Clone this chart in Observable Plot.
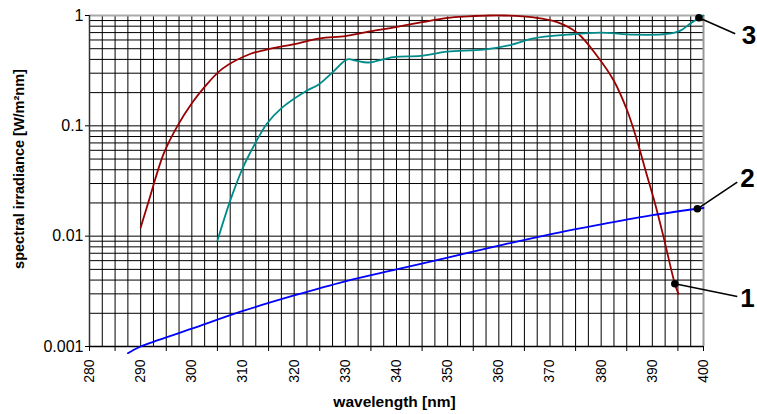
<!DOCTYPE html>
<html>
<head>
<meta charset="utf-8">
<script src="https://cdn.jsdelivr.net/npm/d3@7"></script>
<script src="https://cdn.jsdelivr.net/npm/@observablehq/plot@0.6"></script>
<style>
  html, body { margin: 0; padding: 0; background: #fff; }
  svg { display: block; }
</style>
</head>
<body>
<div id="chart"></div>
<script>
// ---- data ----
const wl1 = [290, 291.6, 294.5, 297.2, 300, 302.3, 306, 311.5, 315.4, 320, 325, 330, 334.3, 338.8, 345, 350, 354, 358, 361, 366.8, 371.4, 375.4, 379.2, 382.4, 385.1, 387, 388.7, 390.5, 392.2, 394.4, 395.1];
const irr1 = [0.012, 0.021, 0.056, 0.10, 0.16, 0.22, 0.33, 0.45, 0.50, 0.55, 0.62, 0.65, 0.71, 0.77, 0.87, 0.95, 0.98, 1.0, 1.0, 0.96, 0.87, 0.69, 0.43, 0.26, 0.137, 0.074, 0.039, 0.02, 0.0098, 0.0037, 0.003];

const wl2 = [287.5, 290, 300, 310, 320, 330, 340, 350, 360, 370, 380, 390, 400];
const irr2 = [0.00087, 0.001, 0.00145, 0.0021, 0.0029, 0.0039, 0.005, 0.0064, 0.0082, 0.0104, 0.0128, 0.0155, 0.018];

const wl3 = [305, 307.5, 309.9, 311.4, 314.7, 317.7, 322.2, 324.8, 327.5, 330.4, 332, 334.5, 339.4, 344.7, 349.9, 357, 362.3, 366.8, 373.4, 379.8, 386.3, 392.9, 395.5, 397.5, 400];
const irr3 = [0.0091, 0.021, 0.041, 0.057, 0.105, 0.147, 0.205, 0.237, 0.305, 0.40, 0.39, 0.375, 0.42, 0.43, 0.47, 0.49, 0.54, 0.62, 0.67, 0.70, 0.67, 0.68, 0.73, 0.85, 1.0];

const seriesNames = ["1", "2", "3"];
const seriesColors = ["#990000", "#0000ff", "#008b8b"];

// annotation markers (data coordinates)
const markerX = [394.4, 398.8, 399.1];
const markerY = [0.00371, 0.0177, 0.953];
const leaderEndX = [406.6, 406.6, 406.2];
const leaderEndY = [0.00284, 0.0309, 0.683];
const labelX = [408.6, 408.6, 408.9];
const labelY = [0.00273, 0.0333, 0.659];

const xTickValues = [280, 290, 300, 310, 320, 330, 340, 350, 360, 370, 380, 390, 400];
const xMinorTickValues = [280, 285, 295, 305, 315, 325, 335, 345, 355, 365, 375, 385, 395, 400];
const yTickValues = [1, 0.1, 0.01, 0.001];
const yTickLabels = ["1", "0.1", "0.01", "0.001"];

const xTitle = "wavelength [nm]";
const yTitle = "spectral irradiance [W/m\u00b2nm]";

// ---- build ----
const toRows = (xs, ys, name) => xs.map((x, i) => ({x, y: ys[i], s: name}));
const lines = [
  toRows(wl1, irr1, seriesNames[0]),
  toRows(wl2, irr2, seriesNames[1]),
  toRows(wl3, irr3, seriesNames[2])
];
const ann = seriesNames.map((n, i) => ({
  n, mx: markerX[i], my: markerY[i], ex: leaderEndX[i], ey: leaderEndY[i], lx: labelX[i], ly: labelY[i]
}));

const gridX = d3.range(280, 400.01, 2.5);
const gridY = [];
for (const e of [0.001, 0.01, 0.1]) for (let k = 1; k <= 9; k++) gridY.push(+(k * e).toPrecision(3));
gridY.push(1);

const yLabelMap = new Map(yTickValues.map((v, i) => [v, yTickLabels[i]]));
const font = "Liberation Sans, Arial, Helvetica, sans-serif";

const chart = Plot.plot({
  width: 757,
  height: 414,
  marginLeft: 89,
  marginRight: 54,
  marginTop: 15,
  marginBottom: 68,
  style: {fontFamily: font, background: "#fff", color: "#000", overflow: "visible"},
  x: {domain: [280, 400]},
  y: {type: "log", domain: [0.001, 1]},
  marks: [
    Plot.ruleX(gridX, {stroke: "#000", strokeWidth: 1}),
    Plot.ruleY(gridY, {stroke: "#000", strokeWidth: 1}),
    Plot.ruleX([400], {stroke: "#999", strokeWidth: 2}),
    Plot.ruleY([1], {stroke: "#aaa", strokeWidth: 2}),
    Plot.ruleX([280], {stroke: "#333", strokeWidth: 1.5}),
    Plot.ruleY([0.001], {stroke: "#000", strokeWidth: 1.5}),
    Plot.axisX(xMinorTickValues, {tickSize: 5, tickFormat: () => "", label: null, stroke: "#000"}),
    Plot.axisX(xTickValues, {tickSize: 0, tickRotate: -90, tickPadding: 13, fontSize: 14, label: null, fill: "#000"}),
    Plot.axisY(yTickValues, {tickSize: 4, tickPadding: 2, fontSize: 16, label: null, tickFormat: d => yLabelMap.get(d), fill: "#000", stroke: "#000"}),
    ...lines.map((rows, i) => Plot.line(rows, {x: "x", y: "y", stroke: seriesColors[i], strokeWidth: 1.8, curve: "catmull-rom"})),
    Plot.link(ann, {x1: "mx", y1: "my", x2: "ex", y2: "ey", stroke: "#000", strokeWidth: 1.6}),
    Plot.dot(ann, {x: "mx", y: "my", r: 3.8, fill: "#000", stroke: null}),
    Plot.text(ann, {x: "lx", y: "ly", text: "n", fontSize: 26, fontWeight: "bold", fill: "#000", textAnchor: "middle", lineAnchor: "middle"}),
    Plot.text([yTitle], {frameAnchor: "left", dx: -70, dy: -12, rotate: -90, fontSize: 14.5, fontWeight: "bold", fill: "#000", textAnchor: "middle", lineAnchor: "middle"}),
    Plot.text([xTitle], {frameAnchor: "bottom", dx: -2, dy: 56, fontSize: 15.5, fontWeight: "bold", fill: "#000", textAnchor: "middle", lineAnchor: "middle"})
  ]
});
document.getElementById("chart").appendChild(chart);
</script>
</body>
</html>
